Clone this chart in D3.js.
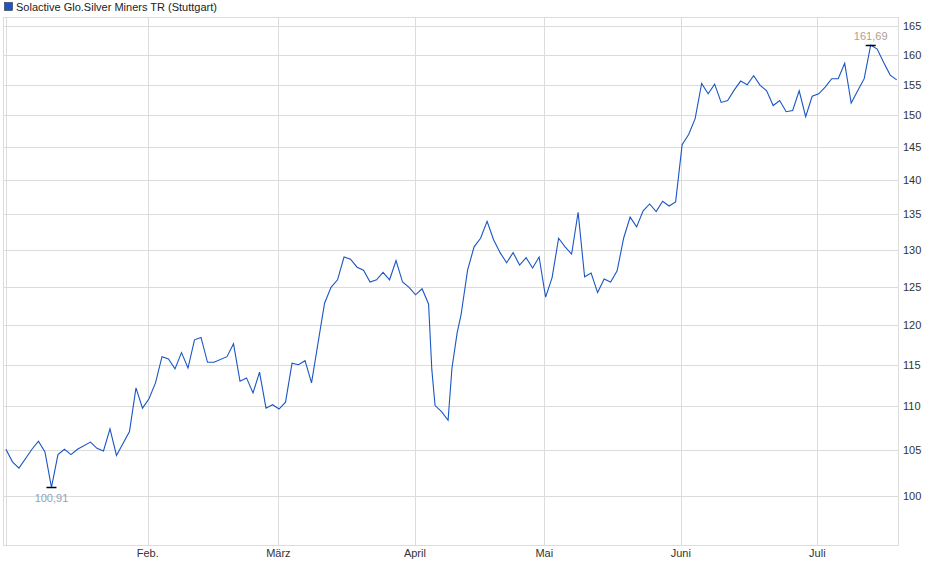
<!DOCTYPE html><html><head><meta charset="utf-8"><script src="https://cdn.jsdelivr.net/npm/d3@7"></script>
<style>body{margin:0;background:#fff}text{font-family:"Liberation Sans",Arial,sans-serif}</style></head><body>
<svg id="c" width="940" height="579"></svg>
<script>
const title = "Solactive Glo.Silver Miners TR (Stuttgart)";
const days = [0,1,2,4,5,6,7,8,9,10,11,13,14,15,16,17,19,20,21,22,23,24,25,26,27,28,29,30,31,32,34,35,36,37,38,39,40,41,42,43,44,45,46,47,
49,50,51,52,53,54,55,56,57,58,59,60,61,62,63,64,65,65.5,66,67,68,68.6,69.4,70,71,72,73,74,75,76,77,78,79,80,81,82,83,84,85,86,87,88,89,90,91,92,93,94,95,96,97,98,99,100,101,102,103,104,105,106,107,108,109,110,111,112,113,114,115,116,117,118,119,120,121,122,123,124,125,126,127,128,129,130,131,132,133,134,135,136,137];
const values = [105.1,103.7,103.0,105.1,106.0,104.8,100.91,104.5,105.1,104.5,105.1,105.9,105.2,104.9,107.4,104.4,107.1,112.2,109.8,110.9,112.8,116.0,115.7,114.5,116.5,114.6,118.1,118.4,115.3,115.3,116.0,117.6,113.0,113.4,111.6,114.1,109.8,110.2,109.7,110.5,115.2,115.0,115.5,112.8,
122.8,124.9,125.9,129.0,128.7,127.6,127.2,125.6,125.9,126.9,125.9,128.5,125.6,124.9,123.9,124.7,122.7,114.4,110.1,109.4,108.4,114.6,119.0,121.3,127.2,130.4,131.6,134.0,131.4,129.6,128.2,129.6,127.9,128.9,127.5,129.0,123.6,126.2,131.6,130.4,129.4,135.3,126.3,126.8,124.2,126.0,125.6,127.1,131.6,134.6,133.2,135.5,136.5,135.4,136.9,136.2,136.8,145.4,147.0,149.5,155.2,153.5,155.1,152.1,152.4,154.1,155.6,155.0,156.5,154.9,154.0,151.6,152.4,150.6,150.8,154.0,149.8,153.1,153.5,154.6,156.0,156.0,158.6,152.0,154.0,156.0,161.69,161.0,158.7,156.6,155.8];
const monthLabels = ["Feb.","März","April","Mai","Juni","Juli"];
const monthPos = [21.8,41.9,62.9,82.8,103.8,124.8];
const yTicks = [100,105,110,115,120,125,130,135,140,145,150,155,160,165];

const svg = d3.select("#c");
const L=4,R=898,T=17,B=545;
const x = d3.scaleLinear().domain([-0.3,137.2]).range([L,R]);
const y = d3.scaleLog().domain([94.9,166.6]).range([B,T]);
const g = svg.append("g");
g.selectAll(".hg").data(yTicks).join("line").attr("x1",L).attr("x2",R).attr("y1",d=>Math.round(y(d))+0.5).attr("y2",d=>Math.round(y(d))+0.5).attr("stroke","#dcdcdc");
g.selectAll(".vg").data(monthPos).join("line").attr("x1",d=>Math.round(x(d))+0.5).attr("x2",d=>Math.round(x(d))+0.5).attr("y1",T).attr("y2",B).attr("stroke","#dcdcdc");
g.append("rect").attr("x",L-0.5).attr("y",T+0.5).attr("width",R-L+1).attr("height",B-T).attr("fill","none").attr("stroke","#dcdcdc");
g.append("line").attr("x1",L+2.5).attr("x2",L+2.5).attr("y1",T).attr("y2",B).attr("stroke","#dcdcdc");
g.selectAll(".yl").data(yTicks).join("text").attr("x",903).attr("y",d=>y(d)+4).attr("font-size",11).attr("fill","#333").text(d=>d);
g.selectAll(".xl").data(monthLabels).join("text").attr("x",(d,i)=>x(monthPos[i])).attr("y",557).attr("text-anchor","middle").attr("font-size",11).attr("fill","#333").text(d=>d);
const line = d3.line().x((d,i)=>x(days[i])).y(d=>y(d));
g.append("path").datum(values).attr("d",line).attr("fill","none").attr("stroke","#1a56c4").attr("stroke-width",1.1);
const iMin = values.indexOf(d3.min(values)), iMax = values.indexOf(d3.max(values));
[[iMin,14,"#8fa3bd"],[iMax,-6,"#b0a090"]].forEach(([i,dy,c])=>{
  const px=x(days[i]),py=Math.round(y(values[i]))+0.5;
  g.append("line").attr("x1",px-5).attr("x2",px+5).attr("y1",py).attr("y2",py).attr("stroke","#000").attr("stroke-width",1.5);
  g.append("text").attr("x",px).attr("y",py+dy).attr("text-anchor","middle").attr("font-size",11).attr("fill",c).text(d3.format(".2f")(values[i]).replace(".",","));
});
svg.append("rect").attr("x",4.5).attr("y",2.5).attr("width",8).attr("height",8).attr("fill","#1a56c4").attr("stroke","#333").attr("stroke-width",0.6);
svg.append("text").attr("x",16).attr("y",11).attr("font-size",11).attr("fill","#222").text(title);
</script></body></html>
